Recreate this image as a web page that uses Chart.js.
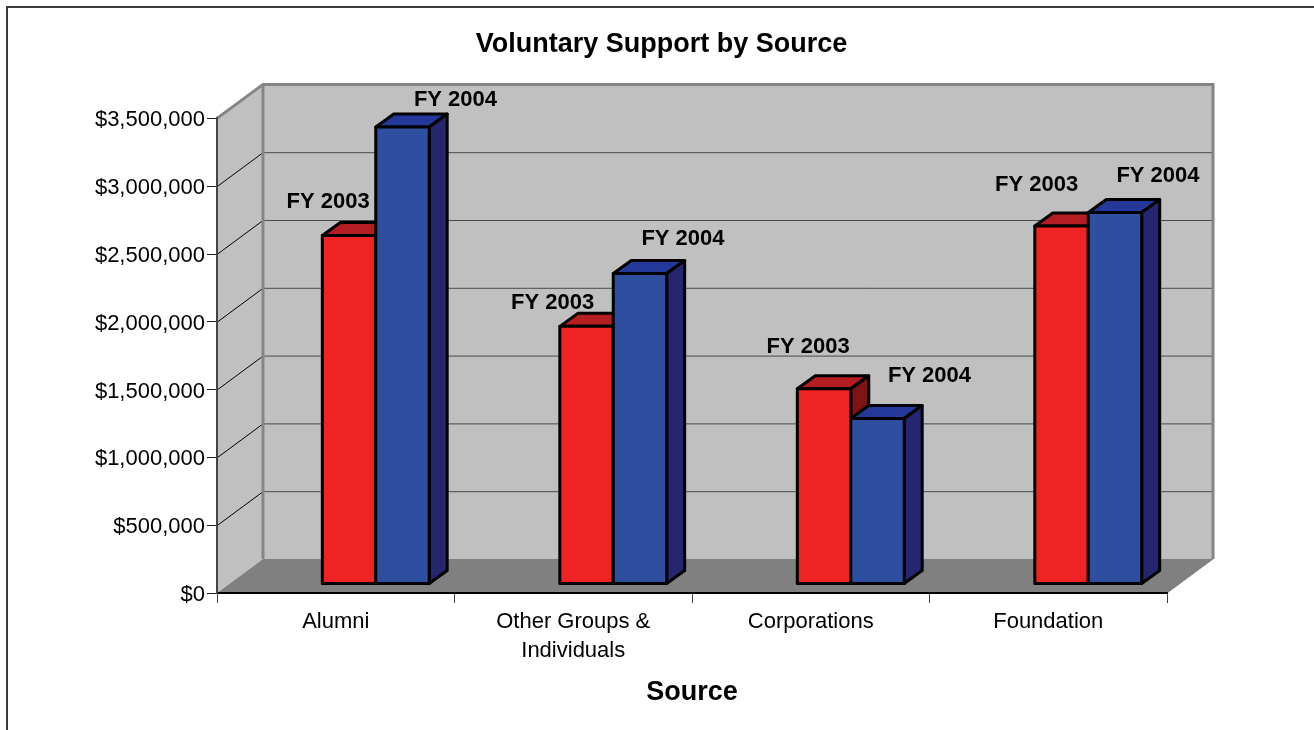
<!DOCTYPE html>
<html>
<head>
<meta charset="utf-8">
<title>Voluntary Support by Source</title>
<script src="https://cdn.jsdelivr.net/npm/chart.js@4/dist/chart.umd.min.js"></script>
<style>
  html, body { margin: 0; padding: 0; background: #fff; overflow: hidden; }
  #wrap { width: 1314px; height: 730px; position: relative; }
</style>
</head>
<body>
<div id="wrap"><canvas id="supportChart" width="1314" height="730"></canvas></div>
<script>
const categories = ['Alumni', ['Other Groups &', 'Individuals'], 'Corporations', 'Foundation'];
const fy2003 = [2570000, 1900000, 1440000, 2640000];
const fy2004 = [3370000, 2290000, 1220000, 2740000];
const seriesNames = ['FY 2003', 'FY 2004'];
const yMax = 3500000;
const yStep = 500000;

const FONT = '"Liberation Sans", Arial, sans-serif';
// the fake 3D box: how far the back wall sits from the front of the floor
const WALL_DX = 46, WALL_DY = -34;
// bars stand part way into the box, and have their own small depth
const BAR_SHIFT_X = 40, BAR_SHIFT_Y = -9;
const BAR_DX = 18, BAR_DY = -13;
// hand placed label offsets from the top centre of each bar front
const labelOffsets = [
  [[-21, -34], [-34, -23], [-16, -42], [-25, -41]],
  [[53, -27], [43, -35], [52, -43], [43, -37]],
];
const seriesColors = [
  { front: '#ef2324', top: '#b41e23', side: '#7f1416' },
  { front: '#2e4f9f', top: '#24389a', side: '#25266f' },
];

function poly(ctx, pts, fill, stroke, lw) {
  ctx.beginPath();
  pts.forEach((p, i) => (i ? ctx.lineTo(p[0], p[1]) : ctx.moveTo(p[0], p[1])));
  ctx.closePath();
  if (fill) { ctx.fillStyle = fill; ctx.fill(); }
  if (stroke) { ctx.strokeStyle = stroke; ctx.lineWidth = lw; ctx.lineJoin = 'round'; ctx.stroke(); }
}

const box3d = {
  id: 'box3d',
  // the original title is centred on the whole frame, not on the padded area
  afterLayout(chart) {
    chart.titleBlock.left = 9;
    chart.titleBlock.right = chart.width;
  },
  // frame and walls go under the axes
  beforeDraw(chart) {
    const { ctx, chartArea: a, scales: { y } } = chart;
    ctx.save();
    ctx.fillStyle = '#fff';
    ctx.fillRect(0, 0, chart.width, chart.height);

    ctx.strokeStyle = '#3c3c3c';
    ctx.lineWidth = 2;
    ctx.beginPath();
    ctx.moveTo(7, chart.height);
    ctx.lineTo(7, 7);
    ctx.lineTo(chart.width, 7);
    ctx.stroke();

    const bl = a.left + WALL_DX, br = a.right + WALL_DX;
    const bt = a.top + WALL_DY, bb = a.bottom + WALL_DY;
    poly(ctx, [[a.left, a.top], [bl, bt], [bl, bb], [a.left, a.bottom]], '#c0c0c0');
    poly(ctx, [[bl, bt], [br, bt], [br, bb], [bl, bb]], '#c0c0c0');

    y.ticks.forEach(t => {
      const py = y.getPixelForValue(t.value);
      if (t.value === 0 || t.value === yMax) return;
      ctx.lineWidth = 1;
      ctx.strokeStyle = '#000';
      ctx.beginPath();
      ctx.moveTo(a.left, py + 0.5);
      ctx.lineTo(bl, py + WALL_DY + 0.5);
      ctx.stroke();
      ctx.strokeStyle = '#4a4a4a';
      ctx.beginPath();
      ctx.moveTo(bl, py + WALL_DY + 0.5);
      ctx.lineTo(br, py + WALL_DY + 0.5);
      ctx.stroke();
    });

    poly(ctx, [[a.left, a.bottom], [bl, bb], [br, bb], [a.right, a.bottom]], '#808080');

    // wall edges
    ctx.strokeStyle = '#858585';
    ctx.lineWidth = 3;
    ctx.lineJoin = 'miter';
    ctx.beginPath();
    ctx.moveTo(a.left, a.top);
    ctx.lineTo(bl, bt);
    ctx.lineTo(br, bt);
    ctx.lineTo(br, bb);
    ctx.moveTo(bl, bt);
    ctx.lineTo(bl, bb);
    ctx.stroke();
    ctx.lineWidth = 1;
    ctx.strokeStyle = '#808080';
    ctx.beginPath();
    ctx.moveTo(br, bb);
    ctx.lineTo(a.right, a.bottom);
    ctx.stroke();
    ctx.restore();
  },
  // the library would draw the last dataset first, we need red under blue
  beforeDatasetDraw() {
    return false;
  },
  afterDatasetsDraw(chart) {
    const { ctx } = chart;
    ctx.save();
    ctx.translate(BAR_SHIFT_X, BAR_SHIFT_Y);
    chart.data.datasets.forEach((ds, i) => {
      const meta = chart.getDatasetMeta(i);
      const c = seriesColors[i];
      meta.data.forEach(bar => {
        const l = bar.x - bar.width / 2, r = bar.x + bar.width / 2;
        const t = bar.y, b = bar.base;
        poly(ctx, [[l, t], [l + BAR_DX, t + BAR_DY], [r + BAR_DX, t + BAR_DY], [r, t]], c.top, '#000', 3);
        poly(ctx, [[r, t], [r + BAR_DX, t + BAR_DY], [r + BAR_DX, b + BAR_DY], [r, b]], c.side, '#000', 3);
        poly(ctx, [[l, t], [r, t], [r, b], [l, b]], c.front, '#000', 3);
      });
    });
    ctx.restore();

    ctx.save();
    ctx.font = 'bold 22px ' + FONT;
    ctx.fillStyle = '#000';
    ctx.textAlign = 'center';
    ctx.textBaseline = 'middle';
    chart.data.datasets.forEach((ds, i) => {
      chart.getDatasetMeta(i).data.forEach((bar, j) => {
        const off = labelOffsets[i][j];
        ctx.fillText(ds.label, bar.x + BAR_SHIFT_X + off[0], bar.y + BAR_SHIFT_Y + off[1]);
      });
    });
    ctx.restore();
  },
};

new Chart(document.getElementById('supportChart'), {
  type: 'bar',
  data: {
    labels: categories,
    datasets: [
      { label: seriesNames[0], data: fy2003, backgroundColor: seriesColors[0].front },
      { label: seriesNames[1], data: fy2004, backgroundColor: seriesColors[1].front },
    ],
  },
  options: {
    responsive: false,
    animation: false,
    layout: { padding: { left: 9, right: 147, top: 0, bottom: 17 } },
    datasets: { bar: { barPercentage: 1, categoryPercentage: 0.45 } },
    plugins: {
      legend: { display: false },
      tooltip: { enabled: false },
      title: {
        display: true,
        text: 'Voluntary Support by Source',
        color: '#000',
        font: { family: FONT, size: 27, weight: 'bold', lineHeight: 1.2 },
        padding: { top: 28, bottom: 58 },
      },
    },
    scales: {
      x: {
        afterFit(scale) { scale.height = 120; },
        border: { color: '#000', width: 2 },
        grid: { drawOnChartArea: false, drawTicks: true, tickLength: 10, color: '#444' },
        ticks: { color: '#000', maxRotation: 0, autoSkip: false, padding: 5, font: { family: FONT, size: 22, lineHeight: 1.3 } },
        title: {
          display: true,
          text: 'Source',
          color: '#000',
          font: { family: FONT, size: 27, weight: 'bold' },
        },
      },
      y: {
        min: 0,
        max: yMax,
        afterFit(scale) { scale.width = 208; },
        border: { color: '#444', width: 2 },
        grid: { drawOnChartArea: false, drawTicks: true, tickLength: 10, color: '#222' },
        ticks: {
          stepSize: yStep,
          color: '#000',
          padding: 2,
          labelOffset: 2,
          font: { family: FONT, size: 22 },
          callback: v => '$' + Number(v).toLocaleString('en-US'),
        },
      },
    },
  },
  plugins: [box3d],
});
</script>
</body>
</html>
